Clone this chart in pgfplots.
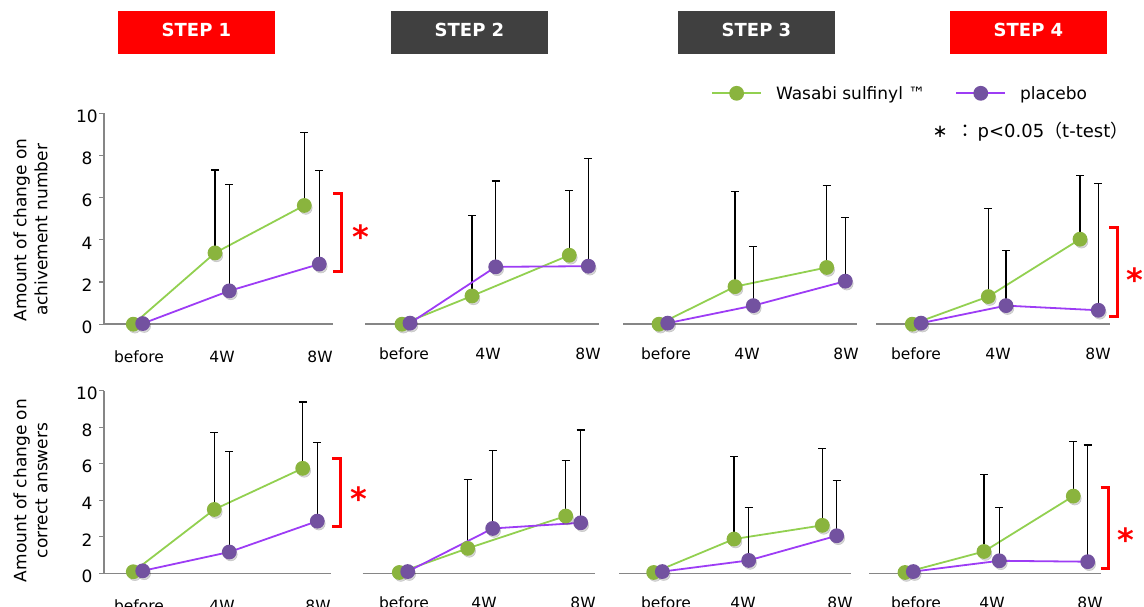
\documentclass[border=0pt]{standalone}
\usepackage{fontspec}
\setmainfont{DejaVu Sans}
\newfontfamily\cjk{Noto Sans CJK JP}
\usepackage{pgfplots}
\usepackage{pgfplotstable}
\pgfplotsset{compat=1.18}

\definecolor{gline}{HTML}{92D050}
\definecolor{pline}{HTML}{9D3CF5}
\definecolor{gmark}{HTML}{8AB43E}
\definecolor{pmark}{HTML}{7352A0}
\definecolor{axgray}{HTML}{868686}
\definecolor{stepgray}{HTML}{404040}

% x = pixel position of each point, y = mean change, e = upper error
\pgfplotstableread{
xg    yg   eg    xp    yp   ep
133.3 0    0     142.7 0.03 0
215   3.38 3.93  229.3 1.58 5.06
304.3 5.63 3.48  319.3 2.85 4.44
}\topA
\pgfplotstableread{
xg    yg   eg    xp    yp   ep
402   0    0     410   0.05 0
472   1.34 3.80  495.7 2.72 4.07
569.3 3.27 3.09  588.3 2.75 5.10
}\topB
\pgfplotstableread{
xg    yg   eg    xp    yp   ep
659   0    0     667.7 0.05 0
735   1.78 4.53  753.3 0.88 2.79
826.7 2.69 3.89  845.3 2.04 3.00
}\topC
\pgfplotstableread{
xg    yg   eg    xp     yp   ep
912.3 0    0     921    0.05 0
988.3 1.31 4.18  1006   0.88 2.63
1080  4.03 3.01  1098.3 0.66 6.02
}\topD
\pgfplotstableread{
xg    yg   eg    xp    yp   ep
133.3 0.09 0     142.7 0.14 0
214.3 3.50 4.20  229.3 1.17 5.49
302.7 5.75 3.63  317.3 2.86 4.31
}\botA
\pgfplotstableread{
xg    yg   eg    xp    yp   ep
399.3 0.05 0     407.7 0.10 0
467.7 1.37 3.78  492.7 2.46 4.29
565.7 3.14 3.03  580.7 2.77 5.08
}\botB
\pgfplotstableread{
xg    yg   eg    xp    yp   ep
653.7 0.05 0     662.3 0.10 0
734   1.88 4.54  748.7 0.71 2.92
822.3 2.63 4.23  836.7 2.06 3.01
}\botC
\pgfplotstableread{
xg     yg   eg    xp     yp   ep
905    0.05 0     913.3  0.10 0
984    1.20 4.22  999.3  0.69 2.94
1073.3 4.23 3.01  1087.7 0.64 6.39
}\botD

\pgfplotsset{
  shd/.style={only marks, mark=*, mark size=6.5pt, color=black, opacity=0.16,
    mark options={xshift=1.5pt, yshift=-2.5pt}, forget plot},
  ser/.style={line width=1.8pt, mark=*, mark size=6.5pt,
    error bars/y dir=plus, error bars/y explicit,
    error bars/error bar style={black, line width=1.1pt, solid},
    error bars/error mark options={black, line width=1.1pt, mark size=4pt, rotate=90}},
  gser/.style={color=gline, mark options={fill=gmark, draw=gmark}, ser},
  pser/.style={color=pline, mark options={fill=pmark, draw=pmark}, ser},
  base/.style={x=1pt, ymin=0, ymax=10, clip=false, anchor=south west,
    axis x line=bottom,
    axis line style={axgray, line width=1.5pt, -},
    xtick style={draw=none}, xticklabels={before,4W,8W},
    xticklabel style={anchor=base, yshift=-33pt, font=\fontsize{15.5}{18}\selectfont}},
  panel/.style={base, axis y line=none, ytick=\empty},
  leftpanel/.style={base, axis y line=left, y axis line style={-},
    every outer y axis line/.append style={-},
    ytick={0,2,...,10},
    ytick style={axgray, line width=1.2pt}, tick align=outside, major tick length=5pt,
    yticklabel style={anchor=center, xshift=-12pt, yshift=-3pt, font=\fontsize{17}{18}\selectfont},
    /pgf/number format/assume math mode=true},
}

\newcommand{\drawseries}[1]{%
  \addplot[shd] table[x=xg,y=yg] {#1};
  \addplot[shd] table[x=xp,y=yp] {#1};
  \addplot[gser] table[x=xg,y=yg,y error=eg] {#1};
  \addplot[pser] table[x=xp,y=yp,y error=ep] {#1};
}

\begin{document}
\begin{tikzpicture}[x=1pt, y=1pt]
\useasboundingbox (0,0) rectangle (1144,607);

% step headers
\fill[red] (118,553.3) rectangle (275,596);
\fill[stepgray] (391,553.3) rectangle (548,596);
\fill[stepgray] (678,553.3) rectangle (835,596);
\fill[red] (950,553.3) rectangle (1107,596);
\begin{scope}[every node/.style={text=white, font=\bfseries\fontsize{18}{20}\selectfont}]
\node at (196.5,576.7) {STEP 1};
\node at (469.5,576.7) {STEP 2};
\node at (756.5,576.7) {STEP 3};
\node at (1028.5,576.7) {STEP 4};
\end{scope}

% y labels
\node[rotate=90, align=center, font=\fontsize{17}{21}\selectfont] at (30.5,377) {Amount of change on\\achivement number};
\node[rotate=90, align=center, font=\fontsize{17}{21}\selectfont] at (30.5,116.5) {Amount of change on\\correct answers};

% top row
\begin{axis}[leftpanel, y=21.09pt, at={(104pt,282.8pt)}, xmin=104, xmax=333, xtick={139,222,320}]
\drawseries{\topA}
\end{axis}
\begin{axis}[panel, y=21.09pt, at={(365pt,282.8pt)}, xmin=365, xmax=599, xtick={404,488,588}]
\drawseries{\topB}
\end{axis}
\begin{axis}[panel, y=21.09pt, at={(623pt,282.8pt)}, xmin=623, xmax=857, xtick={666,747,846}]
\drawseries{\topC}
\end{axis}
\begin{axis}[panel, y=21.09pt, at={(876pt,282.8pt)}, xmin=876, xmax=1110, xtick={916,998,1098},
  legend columns=-1,
  legend style={draw=none, fill=none, inner sep=0pt, at={(-0.705,1.0948)}, anchor=west,
    font=\fontsize{17}{20}\selectfont, nodes={inner sep=0pt},
    /tikz/every odd column/.append style={column sep=14pt},
    /tikz/every even column/.append style={column sep=30pt}},
  legend image code/.code={\draw[mark repeat=2,mark phase=2,#1] plot coordinates {(0pt,0pt) (24.5pt,0pt) (49pt,0pt)};}]
\addlegendimage{gline, line width=1.8pt, mark=*, mark size=6.5pt, mark options={fill=gmark, draw=gmark}}
\addlegendentry{Wasabi sulfinyl ™}
\addlegendimage{pline, line width=1.8pt, mark=*, mark size=6.5pt, mark options={fill=pmark, draw=pmark}}
\addlegendentry{placebo}
\drawseries{\topD}
\end{axis}

% bottom row
\begin{axis}[leftpanel, y=18.27pt, at={(104pt,33.6pt)}, xmin=104, xmax=331, xtick={139,222,318}]
\drawseries{\botA}
\end{axis}
\begin{axis}[panel, y=18.27pt, at={(362.7pt,33.6pt)}, xmin=362.7, xmax=595, xtick={404,484,583}]
\drawseries{\botB}
\end{axis}
\begin{axis}[panel, y=18.27pt, at={(619.3pt,33.6pt)}, xmin=619.3, xmax=850.7, xtick={666,743,840}]
\drawseries{\botC}
\end{axis}
\begin{axis}[panel, y=18.27pt, at={(869.3pt,33.6pt)}, xmin=869.3, xmax=1100.7, xtick={916,992,1090}]
\drawseries{\botD}
\end{axis}

% significance brackets and asterisks
\begin{scope}[red, line width=3pt]
\draw (333,413.7) -- (341.5,413.7) -- (341.5,335.3) -- (333,335.3);
\draw (1109,379.7) -- (1117.5,379.7) -- (1117.5,290.3) -- (1109,290.3);
\draw (332,148.3) -- (340,148.3) -- (340,80.3) -- (332,80.3);
\draw (1100.7,119.3) -- (1108,119.3) -- (1108,38.3) -- (1100.7,38.3);
\end{scope}
\begin{scope}[every node/.style={text=red, font=\bfseries\fontsize{32}{32}\selectfont, yshift=-6.5pt}]
\node at (361,377) {*};
\node at (1135,334) {*};
\node at (359,115) {*};
\node at (1126,74) {*};
\end{scope}

% note
\node[anchor=west, font=\fontsize{18}{20}\selectfont] at (929,475.3)
  {∗\hspace{9pt}{\cjk ：}\hspace{3pt}p<0.05{\cjk （}t-test{\cjk ）}};
\end{tikzpicture}
\end{document}
